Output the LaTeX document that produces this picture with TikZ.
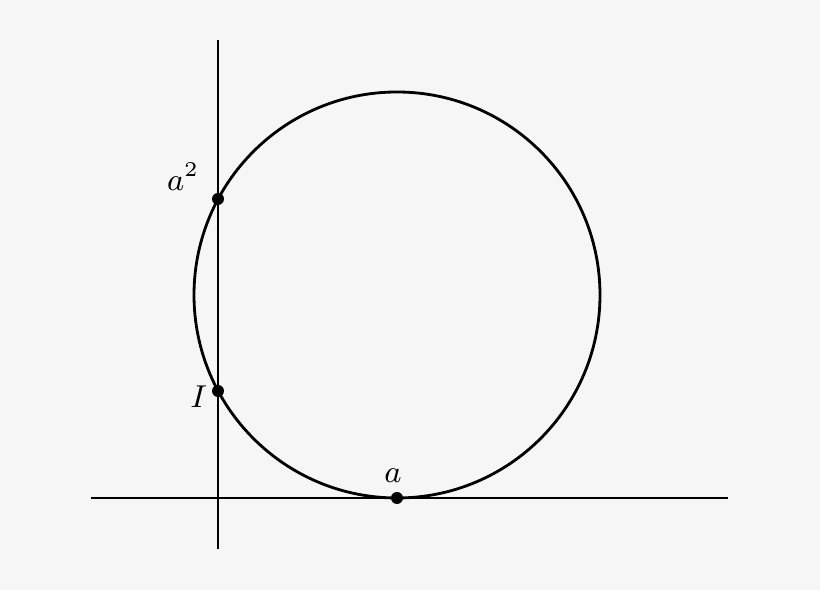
\documentclass[tikz,border=0pt]{standalone}
\usepackage{amsmath}
\usepackage{tikz}
\usetikzlibrary{positioning}
\definecolor{bgpaper}{RGB}{246,246,246}
\tikzstyle{axis} = [line width=0.8pt, color=black]
\tikzstyle{curve} = [line width=0.8pt, color=black]
\tikzstyle{point} = [circle, fill=black, inner sep=0pt, minimum size=0.12cm]
\tikzstyle{plabel} = [font=\fontsize{8.6}{10}\selectfont, inner sep=1pt]

\begin{document}
\begin{tikzpicture}
\fill[bgpaper] (0,0) rectangle (8.2,5.9);
\useasboundingbox (0,0) rectangle (8.2,5.9);
% lines
\coordinate (vtop) at (2.18,5.50);
\coordinate (vbot) at (2.18,0.41);
\coordinate (hleft) at (0.91,0.92);
\coordinate (hright) at (7.28,0.92);
\draw[axis] (vtop) -- (vbot);
\draw[axis] (hleft) -- (hright);
% circle
\coordinate (centre) at (3.97,2.95);
\draw[curve] (centre) circle (2.03);
% points
\node (a) [point] at (3.97,0.92) {};
\node (I) [point] at (2.18,1.99) {};
\node (asq) [point] at (2.18,3.91) {};
\node [plabel, above=0.05cm of a, xshift=-0.04cm] {$a$};
\node [plabel, left=0.0cm of I, yshift=-0.06cm] {$I$};
\node [plabel, above left=0.0cm and 0.1cm of asq] {$a^2$};
\end{tikzpicture}
\end{document}
